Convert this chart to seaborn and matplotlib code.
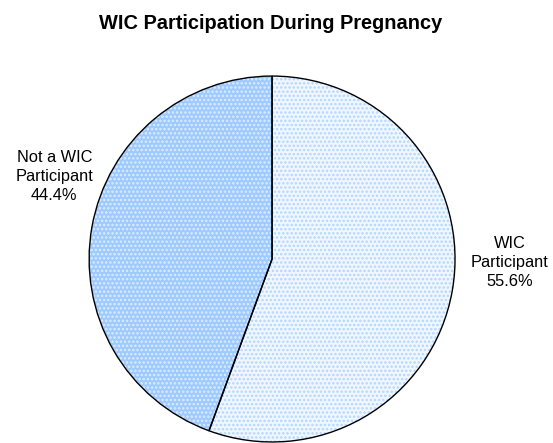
import matplotlib
matplotlib.use("Agg")
import matplotlib.pyplot as plt
import seaborn as sns

# Данные
labels = ["Not a WIC\nParticipant", "WIC\nParticipant"]
shares = [44.4, 55.6]
fill_colors = ["#9ecaff", "#f0f7ff"]
dot_colors = ["#dcedff", "#b3d6ff"]

sns.set_theme(style="white")
plt.rcParams["font.family"] = ["Liberation Sans", "DejaVu Sans"]
plt.rcParams["hatch.linewidth"] = 1.2

fig = plt.figure(figsize=(5.53, 4.43), dpi=100)
ax = fig.add_axes([0.161, 0.0023, 0.662, 0.826])

# Заливка с точечным узором
wedges, _ = ax.pie(shares, startangle=90, counterclock=True, colors=fill_colors,
                   wedgeprops=dict(linewidth=0))
for w, dc in zip(wedges, dot_colors):
    w.set_hatch("....")
    w.set_edgecolor(dc)
    w.set_linewidth(0)

# Контуры секторов
ax.pie(shares, startangle=90, counterclock=True,
       wedgeprops=dict(facecolor="none", edgecolor="black", linewidth=1))

ax.set_xlim(-1, 1)
ax.set_ylim(-1, 1)
ax.set_aspect("equal")
ax.axis("off")

# Подписи
label_pos = [(-1.19, 0.45), (1.30, -0.02)]
for lab, val, (x, y) in zip(labels, shares, label_pos):
    ax.text(x, y, f"{lab}\n{val:.1f}%", ha="center", va="center",
            fontsize=11.8, color="black", linespacing=1.35)

fig.suptitle("WIC Participation During Pregnancy", x=0.49, y=0.968,
             fontsize=14.4, fontweight="bold", color="black")

fig.savefig("out.png", dpi=100)
